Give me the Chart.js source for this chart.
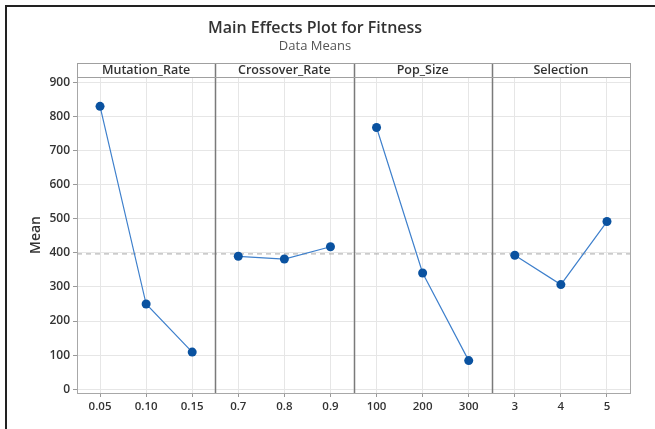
<!DOCTYPE html>
<html>
<head>
<meta charset="utf-8">
<title>Main Effects Plot for Fitness</title>
<script src="https://cdn.jsdelivr.net/npm/chart.js@4.4.1/dist/chart.umd.min.js"></script>
<style>
  html, body { margin: 0; padding: 0; background: #fff; }
  #wrap { position: relative; width: 655px; height: 429px; }
</style>
</head>
<body>
<div id="wrap"><canvas id="ch-main"></canvas></div>
<script>
// ── Datos ────────────────────────────────────────────────────────────────
const FACTORS          = ['Mutation_Rate', 'Crossover_Rate', 'Pop_Size', 'Selection'];
const mutationLevels   = ['0.05', '0.10', '0.15'];
const crossoverLevels  = ['0.7', '0.8', '0.9'];
const popLevels        = ['100', '200', '300'];
const selectionLevels  = ['3', '4', '5'];

const mutationMeans    = [830, 250, 109];
const crossoverMeans   = [390, 382, 418];
const popMeans         = [768, 341, 84];
const selectionMeans   = [393, 307, 492];

const GRAND_MEAN = 397;
const yTicks     = [0, 100, 200, 300, 400, 500, 600, 700, 800, 900];

const levels    = [mutationLevels, crossoverLevels, popLevels, selectionLevels];
const means     = [mutationMeans, crossoverMeans, popMeans, selectionMeans];
const allLabels = levels.flat();

const FONT = "'Open Sans', 'Noto Sans', sans-serif";
Chart.defaults.font.family = FONT;
Chart.defaults.color = '#333';

// ── Paneles, linea de media y cabeceras ──────────────────────────────────
function panelBounds(chart) {
    const xs = chart.scales.x, a = chart.chartArea;
    const b = [a.left];
    for (let k = 1; k < FACTORS.length; k++) {
        const i = levels.slice(0, k).flat().length;
        b.push((xs.getPixelForTick(i - 1) + xs.getPixelForTick(i)) / 2);
    }
    b.push(a.right);
    return b;
}

const panelPlugin = {
    id: 'panels',
    beforeDraw(chart) {
        const c = chart.ctx;
        c.save();
        c.fillStyle = '#fff';
        c.fillRect(0, 0, chart.width, chart.height);
        // marco negro exterior
        c.strokeStyle = '#222';
        c.lineWidth = 2;
        c.beginPath();
        c.moveTo(6, chart.height);
        c.lineTo(6, 6);
        c.lineTo(chart.width, 6);
        c.stroke();
        c.restore();
    },
    beforeDatasetsDraw(chart) {
        const c = chart.ctx, a = chart.chartArea;
        const y = chart.scales.y.getPixelForValue(GRAND_MEAN);
        c.save();
        c.strokeStyle = '#a8a8a8';
        c.lineWidth = 1;
        c.setLineDash([5, 4]);
        c.beginPath();
        c.moveTo(a.left, y);
        c.lineTo(a.right, y);
        c.stroke();
        c.setLineDash([]);
        // separadores entre paneles
        const b = panelBounds(chart);
        c.strokeStyle = '#7a7a7a';
        c.lineWidth = 1.5;
        for (let k = 1; k < b.length - 1; k++) {
            c.beginPath();
            c.moveTo(Math.round(b[k]) + 0.5, a.top - 14);
            c.lineTo(Math.round(b[k]) + 0.5, a.bottom);
            c.stroke();
        }
        // marco del area
        c.strokeStyle = '#a8a8a8';
        c.lineWidth = 1;
        c.strokeRect(a.left + 0.5, a.top + 0.5, a.right - a.left, a.bottom - a.top);
        c.restore();
    },
    afterDraw(chart) {
        const c = chart.ctx, a = chart.chartArea;
        const b = panelBounds(chart);
        const top = a.top - 14;
        c.save();
        c.strokeStyle = '#a0a0a0';
        c.lineWidth = 1;
        c.strokeRect(a.left + 0.5, top + 0.5, a.right - a.left, 14);
        c.fillStyle = '#333';
        c.font = `600 12.5px ${FONT}`;
        c.textAlign = 'center';
        c.textBaseline = 'middle';
        FACTORS.forEach((f, k) => {
            c.fillText(f, (b[k] + b[k + 1]) / 2, top + 7.5);
        });
        c.restore();
    },
};

// ── Grafico ──────────────────────────────────────────────────────────────
const ctx = document.getElementById('ch-main').getContext('2d');
new Chart(ctx, {
    type: 'line',
    data: {
        labels: allLabels,
        datasets: FACTORS.map((f, k) => ({
            label: f,
            data: levels[k].map((l, i) => ({ x: l, y: means[k][i] })),
            borderColor: '#3f80cc',
            borderWidth: 1.2,
            pointRadius: 4.5,
            pointBackgroundColor: '#0a52a0',
            pointBorderColor: '#0a52a0',
            pointBorderWidth: 0,
            tension: 0,
        })),
    },
    options: {
        responsive: true, maintainAspectRatio: false,
        animation: false,
        layout: { padding: { left: 0, right: 25, top: 0, bottom: 0 } },
        plugins: {
            legend: { display: false },
            tooltip: { enabled: false },
            title: {
                display: true, text: 'Main Effects Plot for Fitness',
                color: '#333', font: { size: 16, weight: '600' },
                padding: { top: 19, bottom: 0 },
            },
            subtitle: {
                display: true, text: 'Data Means',
                color: '#555', font: { size: 13, weight: '400' },
                padding: { top: 0, bottom: 23.2 },
            },
        },
        scales: {
            x: {
                type: 'category', offset: true,
                grid: { color: '#e6e6e6', tickColor: '#999', tickLength: 4 },
                border: { display: false },
                ticks: { font: { size: 11.5, weight: '600' }, color: '#333', maxRotation: 0, autoSkip: false, padding: 3 },
                afterFit: s => { s.height = 36; },
            },
            y: {
                min: -11, max: 916,
                afterBuildTicks: s => { s.ticks = yTicks.map(v => ({ value: v })); },
                grid: { color: '#e6e6e6', tickColor: '#999', tickLength: 4 },
                border: { display: false },
                ticks: { font: { size: 12, weight: '600' }, color: '#333', padding: 3 },
                title: { display: true, text: 'Mean', color: '#333', font: { size: 14, weight: '600' }, padding: { top: 28 } },
                afterFit: s => { s.width = 77; },
            },
        },
    },
    plugins: [panelPlugin],
});
</script>
</body>
</html>
